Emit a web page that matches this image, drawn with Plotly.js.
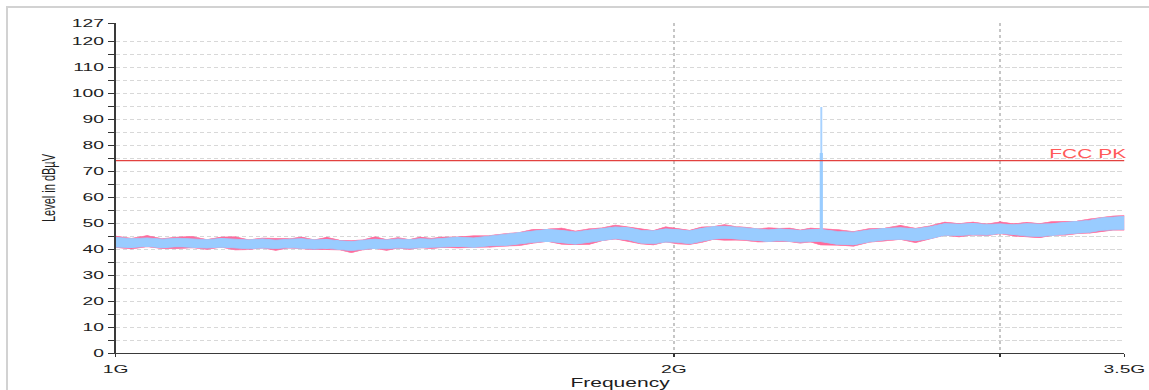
<!DOCTYPE html>
<html>
<head>
<meta charset="utf-8">
<script src="https://cdn.plot.ly/plotly-3.0.1.min.js"></script>
<style>
  html, body { margin:0; padding:0; background:#ffffff; width:1149px; height:390px; overflow:hidden; }
  #frame { position:absolute; left:6px; top:6px; width:1143px; height:384px;
           border-left:2px solid #d2d2d2; border-top:2px solid #d2d2d2; }
  #chart { position:absolute; left:0; top:0; width:656px; height:390px;
           transform:scaleX(1.7515); transform-origin:0 0; }
</style>
</head>
<body>
<div id="frame"></div>
<div id="chart"></div>
<script>
// ---- data (frequency in GHz, level in dBµV) ----
const freqGHz = [
  1.00,1.02,1.04,1.06,1.08,1.10,1.12,1.14,1.16,1.18,1.20,1.22,1.24,1.26,1.28,1.30,1.32,1.34,1.36,1.38,1.40,1.42,1.44,1.46,1.48,
  1.50,1.53,1.56,1.59,1.62,1.65,1.68,1.71,1.74,1.77,1.80,1.83,1.86,1.89,1.92,1.95,1.98,2.01,2.04,2.07,2.10,2.13,2.16,2.19,2.22,2.25,2.28,2.31,2.34,2.37,
  2.40,2.45,2.50,2.55,2.60,2.65,2.70,2.75,2.80,2.85,2.90,2.95,3.00,3.05,3.10,3.15,3.20,3.25,3.30,3.35,3.40,3.45,3.50
];
const blueHi = [
  44.5,44.0,44.3,43.8,44.2,44.0,43.6,44.1,43.7,43.5,43.9,43.4,43.8,44.0,43.5,43.7,43.2,42.9,43.4,43.8,43.5,43.9,43.6,44.0,43.8,
  44.2,44.6,44.3,45.0,45.4,46.2,47.0,47.6,47.2,46.6,47.3,48.0,48.5,48.2,47.2,47.0,47.8,47.5,47.0,48.0,48.6,48.8,48.4,48.0,47.6,47.4,47.8,47.6,47.2,47.5,
  47.6,46.8,46.5,47.4,48.0,48.2,47.8,48.6,49.8,49.6,49.9,49.5,49.7,49.4,49.8,49.6,49.8,50.3,50.6,51.0,52.0,52.3,52.6
];
const blueLo = [
  40.8,40.6,41.0,40.5,40.9,40.7,40.4,40.8,40.3,40.1,40.5,40.2,40.6,40.4,40.0,40.3,39.8,39.4,39.9,40.3,40.1,40.5,40.3,40.6,40.7,
  40.8,41.0,40.7,41.2,41.3,42.0,42.6,43.0,42.4,41.9,42.6,43.4,44.0,43.5,42.3,42.0,42.8,42.6,42.0,43.0,43.8,44.2,43.8,43.4,43.2,42.9,43.3,43.0,42.7,42.9,
  42.9,41.8,41.6,42.8,43.5,43.8,43.2,44.0,45.4,45.2,45.6,45.4,46.0,45.6,45.0,44.8,45.3,45.8,46.1,46.4,47.2,47.4,47.6
];
const pinkHi = [
  45.0,44.1,45.2,44.0,44.6,44.8,43.7,44.6,44.7,43.6,44.2,44.1,44.0,44.6,43.6,44.5,43.5,43.3,43.6,44.7,43.7,44.4,43.7,44.6,44.1,
  44.6,44.7,45.1,45.2,45.9,46.4,47.6,47.7,48.1,46.9,47.8,48.2,49.2,48.4,47.8,47.1,48.6,47.8,47.2,48.5,48.7,49.4,48.7,48.4,47.8,48.2,48.0,48.1,47.3,48.1,
  47.9,47.5,46.7,47.9,48.1,49.1,48.0,49.0,50.4,49.8,50.4,49.6,50.5,49.7,50.3,49.8,50.6,50.6,50.8,51.6,52.2,52.7,52.9
];
const pinkLo = [
  40.6,40.0,40.9,40.1,40.1,40.5,39.9,40.7,39.7,39.8,40.4,39.5,40.4,40.0,39.8,39.8,39.7,38.6,39.7,40.2,39.5,40.3,39.9,40.5,40.1,
  40.6,40.4,40.6,40.7,41.1,41.3,42.3,42.9,41.9,41.7,41.8,43.2,43.9,42.9,42.0,41.6,42.7,42.0,41.8,42.5,43.7,43.4,43.5,43.2,42.7,42.8,42.7,42.8,42.3,42.7,
  41.6,41.5,41.1,42.6,43.1,43.7,42.5,43.8,45.3,44.7,45.4,45.1,45.9,45.0,44.8,44.4,45.2,45.3,45.9,46.1,46.7,47.3,47.3
];
// narrow emission spike
const spikeFreq = [2.402];
const spikeBase = [45.5];
const spikePeak = [94.7];
const spikeShoulder = [77.0];
// limit line
const limitName = 'FCC PK';
const limitFreq = [1.0, 3.5];
const limitLevel = [74, 74];
// ticks
const xTickVals = [1, 2, 3, 3.5];
const xTickText = ['1G', '2G', '', '3.5G'];
const yTickVals = [0,5,10,15,20,25,30,35,40,45,50,55,60,65,70,75,80,85,90,95,100,105,110,115,120,127];
const yTickText = ['0','','10','','20','','30','','40','','50','','60','','70','','80','','90','','100','','110','','120','127'];

const BLUE = '#99ccff';
const PINK = '#ff6b9c';
const font = 'Liberation Sans, Arial, sans-serif';

const traces = [
  { x: freqGHz, y: pinkLo, mode:'lines', line:{color:PINK, width:0.6}, hoverinfo:'skip', showlegend:false },
  { x: freqGHz, y: pinkHi, mode:'lines', line:{color:PINK, width:0.6}, fill:'tonexty', fillcolor:PINK, hoverinfo:'skip', showlegend:false },
  { x: freqGHz, y: blueLo, mode:'lines', line:{color:BLUE, width:0.8}, hoverinfo:'skip', showlegend:false },
  { x: freqGHz, y: blueHi, mode:'lines', line:{color:BLUE, width:0.8}, fill:'tonexty', fillcolor:BLUE, hoverinfo:'skip', showlegend:false },
  { x: [spikeFreq[0], spikeFreq[0]], y: [spikeBase[0], spikePeak[0]], mode:'lines', line:{color:'#a8d2ff', width:1.1}, showlegend:false },
  { x: [spikeFreq[0], spikeFreq[0]], y: [spikeBase[0], spikeShoulder[0]], mode:'lines', line:{color:'#99ccff', width:1.8}, showlegend:false },
  { x: limitFreq, y: limitLevel, mode:'lines', line:{color:'#e2413f', width:1.3}, name: limitName, showlegend:false }
];

const xRange = [Math.log10(1), Math.log10(3.5)];
const layout = {
  width: 656, height: 390,
  margin: { l: 66, r: 14, t: 23, b: 37 },
  paper_bgcolor: 'rgba(0,0,0,0)',
  plot_bgcolor: '#ffffff',
  showlegend: false,
  font: { family: font, color: '#1e1e1e', size: 11 },
  xaxis: {
    type: 'log', range: xRange,
    tickmode: 'array', tickvals: xTickVals, ticktext: xTickText,
    ticks: 'outside', ticklen: 2.5, tickwidth: 1, tickcolor: '#333',
    showline: true, linecolor: '#3a3a3a', linewidth: 1,
    showgrid: true, gridcolor: '#c6c6c6', griddash: 'dot', gridwidth: 1,
    zeroline: false,
    tickfont: { family: font, size: 11, color: '#1e1e1e' },
    ticklabelstandoff: 3,
    title: { text: 'Frequency', font: { family: font, size: 12, color: '#1e1e1e' }, standoff: 6 }
  },
  yaxis: {
    range: [0, 127],
    tickmode: 'array', tickvals: yTickVals, ticktext: yTickText,
    ticks: 'outside', ticklen: 3.5, tickwidth: 1, tickcolor: '#333',
    showline: true, linecolor: '#3a3a3a', linewidth: 1,
    showgrid: true, gridcolor: '#d8d8d8', griddash: '2.4px,1.6px', gridwidth: 1,
    zeroline: false,
    tickfont: { family: font, size: 11, color: '#1e1e1e' },
    title: { text: 'Level in dBµV', font: { family: font, size: 11, color: '#1e1e1e' }, standoff: 6 }
  },
  xaxis2: {
    type: 'log', range: xRange, overlaying: 'x', anchor: 'y', side: 'bottom',
    tickmode: 'array', tickvals: xTickVals, ticks: 'inside', ticklen: 3, tickwidth: 1, tickcolor: '#333',
    showticklabels: false, showgrid: false, showline: false, zeroline: false
  },
  yaxis2: {
    range: [0, 127], overlaying: 'y', anchor: 'x', side: 'left',
    tickmode: 'array', tickvals: yTickVals, ticks: 'inside', ticklen: 2, tickwidth: 1, tickcolor: '#333',
    showticklabels: false, showgrid: false, showline: false, zeroline: false
  },
  annotations: [{
    xref: 'paper', yref: 'y', x: 1, y: limitLevel[0], xanchor: 'right', yanchor: 'bottom',
    xshift: 3, yshift: -2, text: limitName, showarrow: false,
    font: { family: font, size: 12, color: '#ff5a5a' }
  }]
};

Plotly.newPlot('chart', traces, layout, { staticPlot: true, displayModeBar: false });
</script>
</body>
</html>
